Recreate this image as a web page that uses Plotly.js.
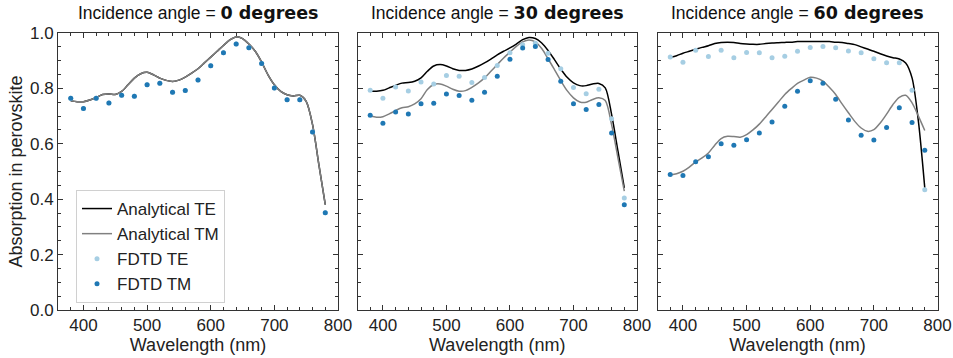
<!DOCTYPE html>
<html>
<head>
<meta charset="utf-8">
<script src="https://cdn.plot.ly/plotly-3.0.1.min.js"></script>
<style>html,body{margin:0;padding:0;background:#fff;}#chart{width:953px;height:358px;}</style>
</head>
<body>
<div id="chart"></div>
<script>
// Wavelength grids (nm)
const wlFine = [380,390,400,410,420,430,440,450,460,470,480,490,500,510,520,530,540,550,560,570,580,590,600,610,620,630,640,650,660,670,680,690,700,710,720,730,740,750,760,770,780];
const wlFdtd = [380,400,420,440,460,480,500,520,540,560,580,600,620,640,660,680,700,720,740,760,780];

// 0 degrees
const ana0 = [0.755,0.752,0.752,0.758,0.767,0.778,0.780,0.778,0.789,0.813,0.837,0.853,0.858,0.849,0.837,0.829,0.825,0.830,0.841,0.855,0.871,0.892,0.913,0.934,0.955,0.975,0.986,0.980,0.960,0.934,0.895,0.849,0.813,0.789,0.777,0.773,0.775,0.753,0.669,0.524,0.380];
const fdtd0 = [0.764,0.727,0.764,0.747,0.775,0.772,0.813,0.819,0.786,0.792,0.830,0.882,0.929,0.960,0.947,0.890,0.801,0.759,0.759,0.643,0.351];

// 30 degrees
const anaTE30 = [0.790,0.790,0.793,0.802,0.811,0.819,0.821,0.826,0.838,0.862,0.881,0.886,0.881,0.871,0.865,0.865,0.870,0.880,0.892,0.906,0.921,0.934,0.946,0.960,0.976,0.984,0.980,0.964,0.937,0.904,0.870,0.840,0.820,0.810,0.810,0.816,0.818,0.802,0.706,0.574,0.441];
const anaTM30 = [0.700,0.696,0.698,0.708,0.720,0.730,0.734,0.744,0.763,0.796,0.814,0.816,0.808,0.797,0.790,0.792,0.804,0.819,0.838,0.862,0.886,0.910,0.931,0.952,0.968,0.975,0.968,0.944,0.907,0.868,0.828,0.792,0.766,0.751,0.750,0.760,0.766,0.756,0.669,0.549,0.429];
const fdtdTE30 = [0.793,0.764,0.805,0.791,0.823,0.816,0.847,0.844,0.821,0.839,0.883,0.929,0.958,0.963,0.927,0.871,0.803,0.781,0.797,0.690,0.404];
const fdtdTM30 = [0.703,0.674,0.715,0.708,0.745,0.746,0.780,0.774,0.757,0.786,0.844,0.905,0.946,0.951,0.904,0.826,0.745,0.724,0.742,0.639,0.380];

// 60 degrees
const anaTE60 = [0.912,0.918,0.927,0.934,0.941,0.948,0.954,0.962,0.966,0.967,0.966,0.962,0.960,0.959,0.959,0.962,0.964,0.965,0.966,0.967,0.969,0.969,0.969,0.969,0.969,0.969,0.967,0.966,0.962,0.958,0.950,0.942,0.934,0.925,0.917,0.911,0.906,0.892,0.838,0.681,0.441];
const anaTM60 = [0.487,0.492,0.501,0.516,0.535,0.549,0.567,0.595,0.619,0.627,0.626,0.624,0.633,0.650,0.671,0.697,0.724,0.751,0.778,0.799,0.818,0.830,0.840,0.837,0.826,0.804,0.778,0.744,0.712,0.681,0.657,0.645,0.651,0.675,0.707,0.742,0.768,0.775,0.748,0.700,0.648];
const fdtdTE60 = [0.913,0.894,0.938,0.915,0.938,0.911,0.930,0.929,0.911,0.916,0.934,0.948,0.951,0.947,0.935,0.929,0.907,0.893,0.893,0.793,0.434];
const fdtdTM60 = [0.489,0.486,0.535,0.553,0.600,0.595,0.615,0.639,0.679,0.736,0.790,0.828,0.819,0.761,0.686,0.631,0.614,0.659,0.730,0.677,0.577];

const angleLabels = ['0 degrees','30 degrees','60 degrees'];
const xTickVals = [400,500,600,700,800];
const yTickVals = [0,0.2,0.4,0.6,0.8,1.0];
const yTickText = ['0.0','0.2','0.4','0.6','0.8','1.0'];

const cTE = '#000000', cTM = '#808080', cFTE = '#a6cee3', cFTM = '#1f78b4';
const panels = [
  {aTE: ana0, aTM: ana0, fTE: fdtd0, fTM: fdtd0},
  {aTE: anaTE30, aTM: anaTM30, fTE: fdtdTE30, fTM: fdtdTM30},
  {aTE: anaTE60, aTM: anaTM60, fTE: fdtdTE60, fTM: fdtdTM60}
];
const traces = [];
panels.forEach((p, i) => {
  const xa = i === 0 ? 'x' : 'x' + (i + 1);
  const ya = i === 0 ? 'y' : 'y' + (i + 1);
  const leg = i === 0;
  traces.push({x: wlFine, y: p.aTE, xaxis: xa, yaxis: ya, mode: 'lines', name: 'Analytical TE', line: {color: cTE, width: 1.5, shape: 'spline', smoothing: 0.8}, showlegend: leg});
  traces.push({x: wlFine, y: p.aTM, xaxis: xa, yaxis: ya, mode: 'lines', name: 'Analytical TM', line: {color: cTM, width: 1.5, shape: 'spline', smoothing: 0.8}, showlegend: leg});
  traces.push({x: wlFdtd, y: p.fTE, xaxis: xa, yaxis: ya, mode: 'markers', name: 'FDTD TE', marker: {color: cFTE, size: 5}, showlegend: leg});
  traces.push({x: wlFdtd, y: p.fTM, xaxis: xa, yaxis: ya, mode: 'markers', name: 'FDTD TM', marker: {color: cFTM, size: 5}, showlegend: leg});
});

const W = 953, H = 358;
const xDomPx = [[58, 338], [357.5, 637], [657.5, 937.5]];
const yDomPx = [33, 310];
const FAM = 'Liberation Sans, Arial, sans-serif';
const axFont = {family: FAM, size: 17, color: '#222'};
const layout = {
  width: W, height: H,
  margin: {l: 0, r: 0, t: 0, b: 0},
  paper_bgcolor: '#fff', plot_bgcolor: '#fff',
  font: {family: FAM, color: '#222'},
  showlegend: true,
  legend: {x: 76 / W, y: 1 - 190 / H, xanchor: 'left', yanchor: 'top', bgcolor: 'rgba(255,255,255,0.85)', bordercolor: '#d0d0d0', borderwidth: 1, font: {family: FAM, size: 17, color: '#222'}, tracegroupgap: 0},
  annotations: [],
  hovermode: false
};
for (let i = 0; i < 3; i++) {
  const sfx = i === 0 ? '' : String(i + 1);
  layout['xaxis' + sfx] = {
    domain: [xDomPx[i][0] / W, xDomPx[i][1] / W],
    anchor: 'y' + sfx,
    range: [360, 800],
    tickvals: xTickVals,
    ticks: 'inside', ticklen: 5, tickcolor: '#333', tickwidth: 1,
    minor: {dtick: 20, tick0: 0, ticks: 'inside', ticklen: 3, tickcolor: '#333', showgrid: false},
    showline: true, linecolor: '#333', linewidth: 1, mirror: 'allticks',
    showgrid: false, zeroline: false,
    tickfont: axFont,
    title: {text: 'Wavelength (nm)', font: {family: FAM, size: 18, color: '#222'}, standoff: 2}
  };
  layout['yaxis' + sfx] = {
    domain: [1 - yDomPx[1] / H, 1 - yDomPx[0] / H],
    anchor: 'x' + sfx,
    range: [0, 1],
    tickvals: yTickVals, ticktext: yTickText,
    showticklabels: i === 0,
    ticks: 'inside', ticklen: 5, tickcolor: '#333', tickwidth: 1,
    minor: {dtick: 0.05, tick0: 0, ticks: 'inside', ticklen: 3, tickcolor: '#333', showgrid: false},
    showline: true, linecolor: '#333', linewidth: 1, mirror: 'allticks',
    showgrid: false, zeroline: false,
    tickfont: axFont,
    title: i === 0 ? {text: 'Absorption in perovskite', font: {family: FAM, size: 18, color: '#222'}, standoff: 2} : {text: ''}
  };
  layout.annotations.push({
    text: 'Incidence angle = <span style="font-family:DejaVu Sans;font-weight:bold">' + angleLabels[i] + '</span>',
    xref: 'paper', yref: 'paper',
    x: (xDomPx[i][0] + xDomPx[i][1]) / 2 / W, y: 1 - 13 / H,
    xanchor: 'center', yanchor: 'middle', showarrow: false,
    font: {family: FAM, size: 17.5, color: '#111'}
  });
}
Plotly.newPlot('chart', traces, layout, {displayModeBar: false, staticPlot: true});
</script>
</body>
</html>
